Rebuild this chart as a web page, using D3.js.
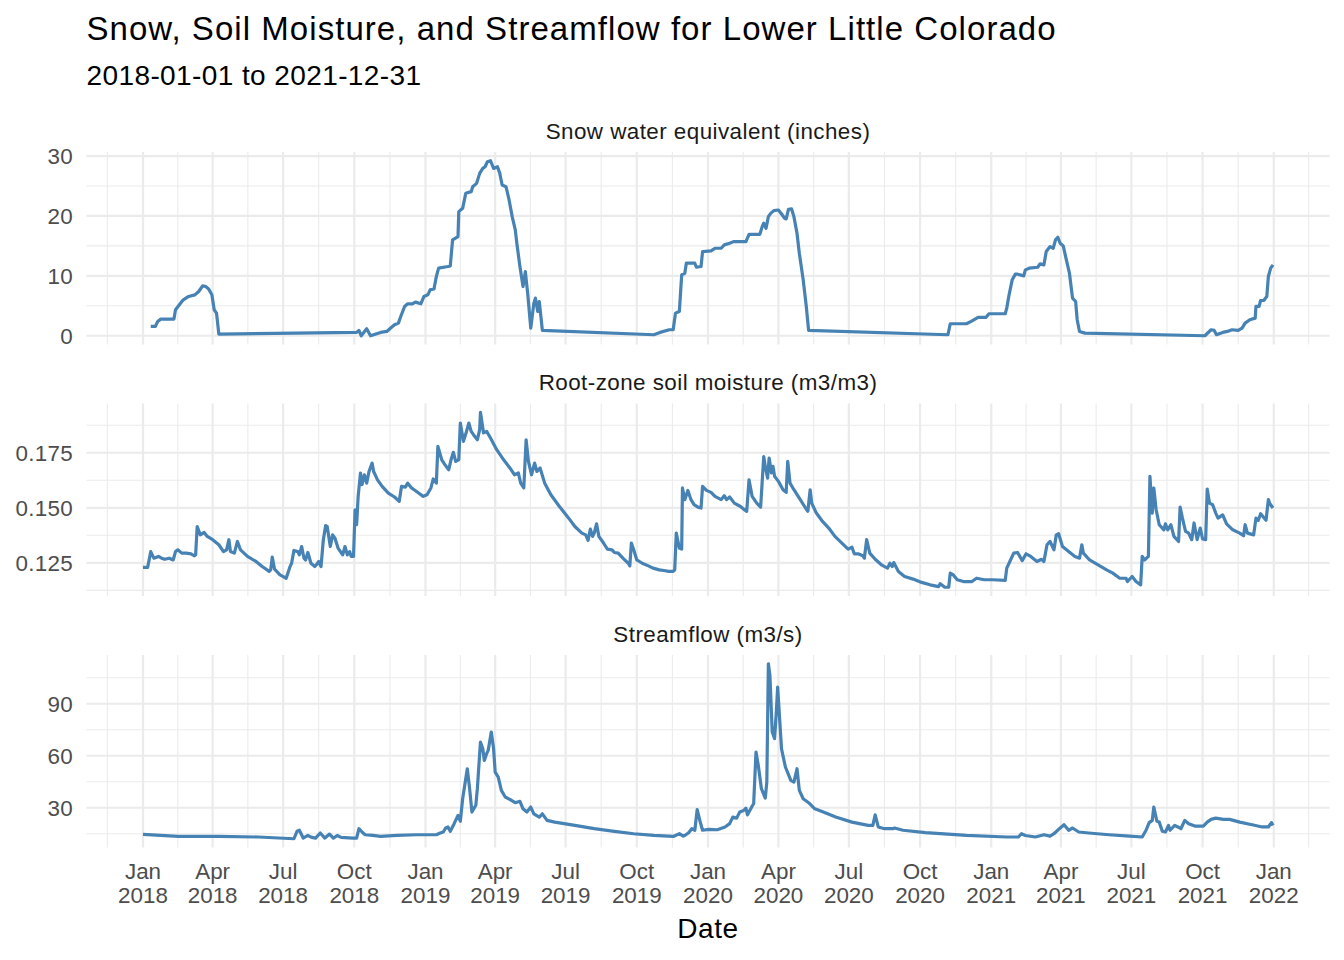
<!DOCTYPE html>
<html>
<head>
<meta charset="utf-8">
<script src="https://cdn.jsdelivr.net/npm/d3@7"></script>
<style>
	body { margin: 0; background: #fff; }
	svg text { font-family: "Liberation Sans", Arial, sans-serif; }
</style>
</head>
<body>
<svg id="chart" width="1344" height="960"></svg>
<script>
var chartTitle = "Snow, Soil Moisture, and Streamflow for Lower Little Colorado",
	chartSubtitle = "2018-01-01 to 2021-12-31",
	xTitle = "Date";

var startDate = new Date(2018, 0, 1),
	endDate = new Date(2021, 11, 31);

var panelTitles = ["Snow water equivalent (inches)", "Root-zone soil moisture (m3/m3)", "Streamflow (m3/s)"];

// [days since 2018-01-01, value]
var sweData = [[10,1.56],[16,1.56],[19,2.39],[23,2.78],[40,2.78],[42,4.33],[46,5.0],[52,6.0],[59,6.56],[67,6.83],[72,7.39],[77,8.33],[81,8.22],[85,7.78],[89,6.83],[92,4.33],[95,3.78],[98,0.28],
	[276,0.56],[279,0.89],[282,0],[289,1.17],[294,0],[307,0.56],[315,0.72],[320,1.28],[325,1.83],[330,2.11],[333,3.22],[338,4.89],[342,5.33],[348,5.33],[352,5.61],[359,5.33],[363,6.56],[368,6.83],[371,7.67],[376,7.83],[379,9.89],[382,11.28],[394,11.56],[397,11.67],[400,16.0],[407,16.56],[408,20.72],[413,21.28],[417,23.78],[424,24.06],[426,24.89],[431,25.44],[435,27.11],[439,27.94],[442,28.22],[445,29.06],[449,29.22],[453,27.94],[458,28.22],[461,27.11],[464,25.17],[469,24.89],[473,22.67],[477,19.89],[481,17.67],[483,15.44],[487,11.56],[491,8.22],[494,10.72],[497,7.11],[501,1.28],[505,5.44],[507,6.28],[510,4.06],[512,5.72],[516,0.89],
	[660,0.17],[668,0.56],[680,1.0],[685,1.0],[688,3.78],[693,4.06],[696,10.17],[700,10.44],[702,12.11],[713,12.11],[715,11.44],[721,11.56],[723,14.06],[734,14.17],[739,14.61],[747,14.61],[751,15.17],[758,15.44],[763,15.72],[779,15.72],[783,16.94],[797,16.94],[800,18.22],[802,18.78],[805,17.94],[808,19.89],[811,20.44],[815,20.89],[821,21.0],[825,20.33],[829,19.61],[831,19.5],[834,21.11],[838,21.17],[841,19.89],[845,17.11],[848,13.78],[853,9.33],[857,4.89],[860,0.89],
	[1040,0.17],[1043,2.0],[1064,2.0],[1070,2.39],[1079,3.06],[1089,3.06],[1093,3.67],[1114,3.67],[1116,4.61],[1119,6.83],[1123,9.33],[1127,10.28],[1130,10.28],[1138,10.0],[1140,11.0],[1145,11.28],[1156,11.44],[1159,12.0],[1164,11.83],[1167,14.06],[1172,14.89],[1176,14.61],[1179,16.0],[1182,16.44],[1185,15.44],[1189,15.0],[1193,12.67],[1197,10.44],[1201,6.28],[1205,5.72],[1207,2.67],[1210,0.72],[1217,0.44],
	[1372,0.0],[1380,1.0],[1384,0.89],[1387,0.17],[1395,0.56],[1401,0.72],[1407,1.0],[1415,0.89],[1420,1.28],[1424,2.11],[1430,2.67],[1437,2.94],[1438,4.89],[1442,4.89],[1444,5.89],[1448,5.89],[1452,6.56],[1454,9.89],[1457,11.28],[1460,11.83]];

var soilData = [[0,0.1229],[6,0.1229],[10,0.1301],[14,0.1271],[20,0.1279],[24,0.1271],[28,0.1266],[34,0.1271],[39,0.1263],[42,0.1301],[45,0.1309],[50,0.1294],[56,0.1294],[62,0.1291],[66,0.1282],[68,0.1286],[70,0.1415],[74,0.1377],[79,0.1388],[83,0.1370],[90,0.1355],[98,0.1332],[104,0.1301],[108,0.1309],[111,0.1355],[113,0.1301],[118,0.1294],[122,0.1347],[126,0.1309],[135,0.1279],[146,0.1256],[154,0.1233],[163,0.1211],[165,0.1218],[167,0.1276],[170,0.1221],[177,0.1195],[185,0.1180],[190,0.1233],[192,0.1248],[195,0.1306],[200,0.1301],[202,0.1286],[205,0.1324],[208,0.1271],[210,0.1263],[213,0.1297],[217,0.1248],[222,0.1233],[224,0.1241],[227,0.1256],[230,0.1233],[233,0.1355],[236,0.1419],[238,0.1415],[240,0.1370],[242,0.1324],[245,0.1377],[248,0.1362],[252,0.1317],[258,0.1286],[261,0.1324],[264,0.1286],[267,0.1301],[269,0.1279],[272,0.1279],[274,0.1491],[276,0.1423],[278,0.1552],[281,0.1658],[283,0.1605],[286,0.1650],[289,0.1612],[292,0.1665],[296,0.1703],[298,0.1665],[303,0.1627],[309,0.1597],[317,0.1567],[325,0.1549],[331,0.1529],[334,0.1597],[339,0.1594],[342,0.1612],[347,0.1590],[353,0.1575],[362,0.1552],[367,0.1559],[372,0.1590],[375,0.1631],[379,0.1612],[381,0.1779],[386,0.1718],[390,0.1696],[395,0.1673],[398,0.1718],[401,0.1752],[404,0.1711],[408,0.1718],[410,0.1885],[414,0.1802],[418,0.1847],[421,0.1885],[424,0.1847],[427,0.1832],[432,0.1809],[435,0.1855],[436,0.1934],[440,0.1840],[444,0.1847],[449,0.1817],[457,0.1764],[466,0.1718],[474,0.1681],[480,0.1650],[485,0.1658],[488,0.1612],[492,0.1590],[495,0.1809],[498,0.1711],[502,0.1650],[506,0.1703],[509,0.1665],[513,0.1681],[519,0.1612],[527,0.1559],[538,0.1506],[550,0.1453],[558,0.1415],[567,0.1385],[572,0.1377],[575,0.1352],[578,0.1403],[581,0.1370],[583,0.1385],[586,0.1427],[589,0.1370],[595,0.1340],[600,0.1312],[606,0.1309],[609,0.1297],[614,0.1294],[620,0.1271],[627,0.1248],[629,0.1236],[631,0.1340],[634,0.1309],[638,0.1263],[645,0.1248],[653,0.1236],[659,0.1226],[667,0.1218],[673,0.1215],[679,0.1211],[685,0.1211],[687,0.1218],[689,0.1385],[693,0.1317],[696,0.1312],[697,0.1590],[700,0.1537],[704,0.1579],[708,0.1537],[712,0.1514],[717,0.1503],[721,0.1499],[723,0.1597],[728,0.1579],[734,0.1570],[739,0.1552],[747,0.1537],[751,0.1555],[754,0.1537],[758,0.1549],[764,0.1521],[772,0.1506],[777,0.1491],[780,0.1484],[783,0.1627],[787,0.1552],[793,0.1521],[798,0.1503],[802,0.1733],[804,0.1688],[807,0.1635],[809,0.1726],[812,0.1658],[814,0.1688],[816,0.1643],[821,0.1620],[827,0.1582],[831,0.1570],[833,0.1711],[836,0.1612],[841,0.1582],[848,0.1544],[856,0.1499],[859,0.1484],[862,0.1582],[864,0.1521],[870,0.1476],[878,0.1438],[886,0.1408],[894,0.1370],[902,0.1343],[911,0.1312],[916,0.1321],[919,0.1291],[924,0.1291],[930,0.1282],[932,0.1271],[935,0.1355],[939,0.1294],[946,0.1266],[954,0.1241],[962,0.1226],[965,0.1248],[968,0.1233],[970,0.1251],[976,0.1211],[984,0.1188],[995,0.1176],[1006,0.1161],[1017,0.1150],[1028,0.1142],[1030,0.1155],[1036,0.1139],[1041,0.1139],[1043,0.1203],[1047,0.1195],[1052,0.1173],[1060,0.1165],[1071,0.1165],[1077,0.1180],[1087,0.1173],[1098,0.1173],[1114,0.1170],[1116,0.1226],[1120,0.1256],[1125,0.1294],[1130,0.1297],[1136,0.1260],[1141,0.1291],[1147,0.1279],[1155,0.1256],[1161,0.1266],[1164,0.1256],[1168,0.1332],[1172,0.1347],[1177,0.1309],[1180,0.1377],[1183,0.1382],[1188,0.1324],[1196,0.1301],[1204,0.1279],[1210,0.1271],[1213,0.1332],[1215,0.1294],[1223,0.1263],[1234,0.1241],[1245,0.1218],[1253,0.1203],[1262,0.1180],[1270,0.1180],[1272,0.1165],[1278,0.1188],[1283,0.1165],[1289,0.1150],[1291,0.1279],[1294,0.1263],[1299,0.1279],[1301,0.1643],[1304,0.1476],[1306,0.1590],[1309,0.1491],[1313,0.1423],[1319,0.1400],[1321,0.1427],[1324,0.1400],[1328,0.1423],[1332,0.1370],[1338,0.1347],[1340,0.1503],[1343,0.1453],[1347,0.1393],[1351,0.1385],[1355,0.1355],[1358,0.1431],[1362,0.1355],[1366,0.1408],[1369,0.1358],[1373,0.1355],[1375,0.1585],[1378,0.1521],[1382,0.1514],[1386,0.1476],[1389,0.1453],[1395,0.1468],[1400,0.1427],[1408,0.1400],[1417,0.1385],[1422,0.1373],[1424,0.1423],[1427,0.1385],[1435,0.1377],[1438,0.1453],[1441,0.1443],[1444,0.1473],[1451,0.1443],[1454,0.1537],[1456,0.1518],[1460,0.1499]];

var flowData = [[0,14.6],[46,13.45],[98,13.45],[149,13.1],[195,12.1],[199,16.4],[202,17.0],[207,12.5],[213,14.0],[218,12.9],[223,12.5],[229,15.4],[235,12.5],[241,14.8],[246,12.5],[251,14.0],[256,12.9],[271,12.5],[276,12.5],[279,17.9],[283,16.0],[287,14.4],[297,14.0],[307,13.45],[328,14.0],[353,14.4],[379,14.4],[384,15.4],[388,16.0],[391,18.3],[394,18.9],[397,16.4],[402,20.8],[407,25.6],[410,22.2],[413,35.2],[419,52.5],[422,41.0],[425,27.5],[430,31.4],[432,41.0],[436,67.9],[439,64.0],[441,57.3],[444,61.2],[446,63.1],[450,73.7],[453,64.0],[455,50.6],[459,47.7],[463,40.0],[468,36.2],[476,34.3],[481,32.9],[487,33.7],[491,29.4],[496,27.5],[501,30.4],[505,26.5],[512,24.6],[516,26.5],[522,22.7],[532,21.7],[558,19.8],[583,17.9],[609,16.4],[634,15.0],[660,14.0],[685,13.45],[693,15.0],[698,13.6],[700,14.0],[705,15.6],[709,17.9],[713,17.0],[716,28.9],[720,21.7],[723,17.0],[731,17.5],[742,17.3],[752,18.9],[758,20.8],[762,24.6],[767,24.0],[771,27.5],[776,28.4],[779,29.8],[781,25.9],[787,30.9],[789,32.3],[792,62.1],[795,54.4],[799,41.0],[804,35.6],[806,44.8],[808,113.1],[810,106.3],[813,73.7],[816,69.9],[818,83.3],[820,99.6],[822,85.2],[825,64.0],[830,53.5],[837,45.8],[841,44.8],[845,52.5],[848,40.0],[853,35.2],[860,32.9],[868,29.4],[879,27.5],[895,24.6],[916,21.7],[937,19.8],[943,19.8],[946,25.9],[950,18.9],[958,17.9],[969,17.9],[971,18.3],[982,17.0],[1011,15.6],[1064,14.0],[1116,13.1],[1131,13.1],[1135,15.0],[1140,14.0],[1153,13.1],[1164,14.4],[1172,13.6],[1177,15.0],[1184,17.9],[1190,20.2],[1196,17.0],[1201,18.3],[1209,16.0],[1222,15.4],[1248,14.4],[1275,13.6],[1291,13.1],[1296,17.0],[1300,21.4],[1304,22.7],[1306,30.4],[1310,22.2],[1313,21.7],[1317,16.4],[1321,16.0],[1325,19.8],[1327,17.0],[1333,19.8],[1337,18.9],[1341,17.9],[1346,22.7],[1351,20.8],[1359,19.4],[1370,19.4],[1375,21.7],[1380,23.3],[1386,24.0],[1396,23.3],[1404,23.3],[1417,21.7],[1433,20.2],[1446,18.9],[1454,18.9],[1458,21.4],[1460,19.8]];

var sweTicks = [0, 10, 20, 30],
	soilTicks = [0.125, 0.150, 0.175],
	flowTicks = [30, 60, 90];

var chart = (function(){

	var svg = d3.select("#chart"),
		left = 86.5, right = 1329.5,
		panelTops = [152, 403.5, 655], panelHeight = 192.5,
		lineColor = "steelblue", gridColor = "#ebebeb", textColor = "#4d4d4d",
		smallFont = 22.4;

	var toDate = function(d) { return d3.timeDay.offset(startDate, d[0]); };

	var span = endDate - startDate;
	var x = d3.scaleTime()
		.domain([new Date(+startDate - span * 0.05), new Date(+endDate + span * 0.05)])
		.range([left, right]);

	// quarterly breaks, minor lines halfway between
	var majorX = d3.timeMonth.every(3).range(startDate, new Date(2022, 0, 2)),
		minorX = [];
	var edges = [d3.timeMonth.offset(majorX[0], -3)].concat(majorX, [d3.timeMonth.offset(majorX[majorX.length - 1], 3)]);
	for (var i = 1; i < edges.length; i++) {
		minorX.push(new Date((+edges[i - 1] + +edges[i]) / 2));
	}
	minorX = minorX.filter(function(d){ return x(d) >= left && x(d) <= right; });

	var panels = [
		{ title: panelTitles[0], data: sweData, ticks: sweTicks, fmt: d3.format("d") },
		{ title: panelTitles[1], data: soilData, ticks: soilTicks, fmt: d3.format(".3f") },
		{ title: panelTitles[2], data: flowData, ticks: flowTicks, fmt: d3.format("d") }
	];

	svg.append("text")
		.attr("x", left).attr("y", 40)
		.attr("font-size", 33).attr("letter-spacing", 1.05).attr("fill", "#000")
		.text(chartTitle);

	svg.append("text")
		.attr("x", left).attr("y", 85)
		.attr("font-size", 28).attr("letter-spacing", 0.4).attr("fill", "#000")
		.text(chartSubtitle);

	panels.forEach(function(p, k){
		var top = panelTops[k], bottom = top + panelHeight;
		var ext = d3.extent(p.data, function(d){ return d[1]; }),
			pad = (ext[1] - ext[0]) * 0.05;
		var y = d3.scaleLinear().domain([ext[0] - pad, ext[1] + pad]).range([bottom, top]);

		var step = p.ticks[1] - p.ticks[0],
			minorY = [p.ticks[0] - step / 2].concat(p.ticks.map(function(t){ return t + step / 2; }))
				.filter(function(v){ return v >= y.domain()[0] && v <= y.domain()[1]; });

		var g = svg.append("g").attr("class", "panel");

		g.selectAll(".minor-y").data(minorY).enter().append("line")
			.attr("x1", left).attr("x2", right)
			.attr("y1", y).attr("y2", y)
			.attr("stroke", gridColor).attr("stroke-width", 1.1);

		g.selectAll(".minor-x").data(minorX).enter().append("line")
			.attr("x1", x).attr("x2", x)
			.attr("y1", top).attr("y2", bottom)
			.attr("stroke", gridColor).attr("stroke-width", 1.1);

		g.selectAll(".major-y").data(p.ticks).enter().append("line")
			.attr("x1", left).attr("x2", right)
			.attr("y1", y).attr("y2", y)
			.attr("stroke", gridColor).attr("stroke-width", 2.2);

		g.selectAll(".major-x").data(majorX).enter().append("line")
			.attr("x1", x).attr("x2", x)
			.attr("y1", top).attr("y2", bottom)
			.attr("stroke", gridColor).attr("stroke-width", 2.2);

		g.append("path")
			.datum(p.data)
			.attr("fill", "none")
			.attr("stroke", lineColor)
			.attr("stroke-width", 3.2)
			.attr("stroke-linejoin", "round")
			.attr("d", d3.line()
				.x(function(d){ return x(toDate(d)); })
				.y(function(d){ return y(d[1]); }));

		g.selectAll(".ylab").data(p.ticks).enter().append("text")
			.attr("x", 73).attr("y", y)
			.attr("dy", "0.36em")
			.attr("text-anchor", "end")
			.attr("font-size", smallFont).attr("letter-spacing", 0.3).attr("fill", textColor)
			.text(p.fmt);

		g.append("text")
			.attr("x", (left + right) / 2).attr("y", top - 13.5)
			.attr("text-anchor", "middle")
			.attr("font-size", smallFont).attr("letter-spacing", 0.45).attr("fill", "#1a1a1a")
			.text(p.title);
	});

	var month = d3.timeFormat("%b"), year = d3.timeFormat("%Y");
	var xl = svg.selectAll(".xlab").data(majorX).enter().append("text")
		.attr("text-anchor", "middle")
		.attr("font-size", smallFont).attr("fill", textColor);
	xl.append("tspan").attr("x", x).attr("y", 879).text(month);
	xl.append("tspan").attr("x", x).attr("y", 903).text(year);

	svg.append("text")
		.attr("x", (left + right) / 2).attr("y", 938)
		.attr("text-anchor", "middle")
		.attr("font-size", 28).attr("letter-spacing", 0.6).attr("fill", "#000")
		.text(xTitle);

	return { x: x };
})();
</script>
</body>
</html>
